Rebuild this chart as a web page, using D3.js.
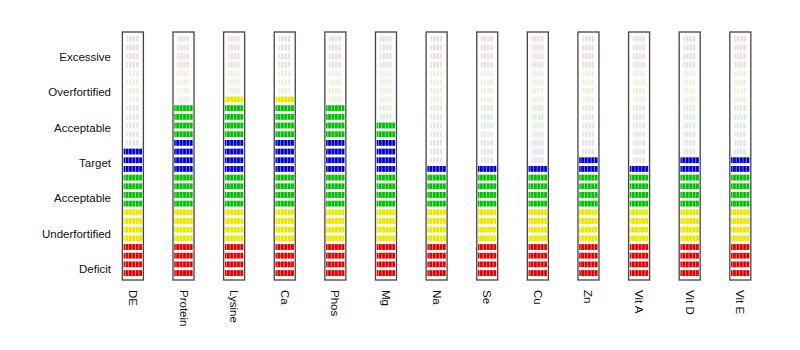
<!DOCTYPE html>
<html><head><meta charset="utf-8">
<script src="https://cdn.jsdelivr.net/npm/d3@7"></script>
<style>body{margin:0;background:#fff}svg{display:block}</style>
</head><body>
<svg id="c" width="800" height="350"></svg>
<script>
const categories = ["DE","Protein","Lysine","Ca","Phos","Mg","Na","Se","Cu","Zn","Vit A","Vit D","Vit E"];
const filledCells = [15,20,21,21,20,18,13,13,13,14,13,14,14];
const levelLabels = ["Deficit","Underfortified","Acceptable","Target","Acceptable","Overfortified","Excessive"];
const levelColors = ["#e00000","#e8e800","#00c000","#0000d0","#00c000","#e8e800","#e00000"];
const fadedColors = ["#9a3050","#a0a040","#40904a","#5050b0","#40904a","#a0a040","#9a3050"];
const cellsPerLevel = 4;

const svg = d3.select("#c");
const nCells = levelLabels.length * cellsPerLevel;

const x = d3.scaleBand().domain(categories).range([107.7, 765.5]).paddingInner(0.585).paddingOuter(0.29);
const y = d3.scaleLinear().domain([0, nCells]).range([277.5, 34.5]);

// patterns
const defs = svg.append("defs");
levelColors.forEach((c, i) => {
  const pf = defs.append("pattern").attr("id", `p${i}f`).attr("patternUnits","userSpaceOnUse")
    .attr("width", 3.4).attr("height", 10);
  pf.append("rect").attr("width", 3.4).attr("height", 10).attr("fill", c);
  pf.append("rect").attr("x", 2.5).attr("width", 0.9).attr("height", 10).attr("fill", "#fff").attr("opacity", 0.5);
  const pe = defs.append("pattern").attr("id", `p${i}e`).attr("patternUnits","userSpaceOnUse")
    .attr("width", 3.4).attr("height", 10);
  pe.append("rect").attr("width", 3.4).attr("height", 10).attr("fill", fadedColors[i]).attr("opacity", 0.16);
  pe.append("rect").attr("x", 2.5).attr("width", 0.9).attr("height", 10).attr("fill", "#fff");
});

// boxes
const col = svg.selectAll("g.col").data(categories.map((c,i)=>({c, v: filledCells[i]})))
  .join("g").attr("class","col").attr("transform", d => `translate(${x(d.c)},0)`);

col.append("rect").attr("x", 0).attr("y", y(nCells) - 2.5).attr("width", x.bandwidth())
  .attr("height", y(0) - y(nCells) + 5).attr("fill", "#fff").attr("stroke", "#444").attr("stroke-width", 1.3);

col.each(function(d) {
  const g = d3.select(this);
  const cells = d3.range(nCells).map(k => ({k, lvl: Math.floor(k / cellsPerLevel), on: k < d.v}));
  const bw = x.bandwidth();
  g.selectAll("rect.cell").data(cells).join("rect").attr("class","cell")
    .attr("x", c => c.on ? 1.2 : bw * 0.2)
    .attr("width", c => c.on ? bw - 2.4 : bw * 0.6)
    .attr("y", c => y(c.k + 1) + 1.3)
    .attr("height", c => (y(c.k) - y(c.k + 1)) - 2.8)
    .attr("fill", c => `url(#p${c.lvl}${c.on ? "f" : "e"})`);
});

// level labels
const ly = d3.scaleLinear().domain([0, levelLabels.length - 1]).range([273, 61]);
svg.selectAll("text.lvl").data(levelLabels).join("text").attr("class","lvl")
  .attr("x", 111)
  .attr("y", (d, i) => ly(i))
  .attr("text-anchor", "end")
  .attr("font-family", "Liberation Sans, Arial, sans-serif").attr("font-size", 11.5).attr("fill", "#111")
  .text(d => d);

// category labels rotated
svg.selectAll("text.cat").data(categories).join("text").attr("class","cat")
  .attr("transform", d => `translate(${x(d) + x.bandwidth()/2 - 4},290) rotate(90)`)
  .attr("font-family", "Liberation Sans, Arial, sans-serif").attr("font-size", 11.5).attr("fill", "#111")
  .text(d => d);
</script>
</body></html>
